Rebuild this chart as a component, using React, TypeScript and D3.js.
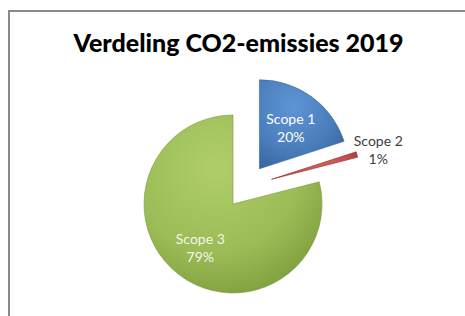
import React from "react";
import * as d3 from "d3";

const width = 465;
const height = 316;

// chart data
const categories = ["Scope 1", "Scope 2", "Scope 3"];
const values = [20, 1, 79];
const percentLabels = ["20%", "1%", "79%"];
const title = "Verdeling CO2-emissies 2019";

// per slice look
const explode = [22, 26, 22];
const labelRadius = [0.6, 1.25, 0.6];
const colors = [
  { light: "#5f94d6", mid: "#4a7ebb", dark: "#35649c" },
  { light: "#e06a66", mid: "#c0504d", dark: "#93302e" },
  { light: "#b0cf6a", mid: "#9abb55", dark: "#7a9a3a" },
];
const labelColors = ["#ffffff", "#404040", "#f4f6ea"];

const cx = 246.5;
const cy = 186.6;
const radius = 89;

const App = () => {
  const pie = d3.pie<number>().value((d) => d).sort(null);
  const arcs = pie(values);
  const arc = d3.arc<d3.PieArcDatum<number>>().innerRadius(0).outerRadius(radius);

  return (
    <svg width={width} height={height} style={{ position: "absolute", left: 0, top: 0, background: "#fff" }}>
      <defs>
        {colors.map((c, i) => (
          <radialGradient key={i} id={"g" + i} cx="40%" cy="30%" r="80%">
            <stop offset="0%" stopColor={c.light} />
            <stop offset="60%" stopColor={c.mid} />
            <stop offset="100%" stopColor={c.dark} />
          </radialGradient>
        ))}
      </defs>
      <rect x={9} y={11} width={width + 10} height={height + 10} fill="#fff" stroke="#8a8a8a" strokeWidth={2} />
      <text
        x={238.5}
        y={52}
        textAnchor="middle"
        fontFamily="Lato, sans-serif"
        fontWeight={900}
        fontSize={25}
        fill="#000"
      >
        {title}
      </text>
      <g transform={`translate(${cx},${cy})`}>
        {arcs.map((a, i) => {
          const mid = (a.startAngle + a.endAngle) / 2;
          const dx = Math.sin(mid) * explode[i];
          const dy = -Math.cos(mid) * explode[i];
          const lr = radius * labelRadius[i];
          const [lx, ly] = d3.arc<d3.PieArcDatum<number>>().innerRadius(lr).outerRadius(lr).centroid(a);
          return (
            <g key={i} transform={`translate(${dx},${dy})`}>
              <path d={arc(a) || ""} fill={`url(#g${i})`} stroke={colors[i].dark} strokeWidth={0.6} />
              <text
                x={lx}
                y={ly}
                textAnchor="middle"
                fontFamily="Lato, sans-serif"
                fontSize={14}
                fill={labelColors[i]}
              >
                <tspan x={lx} dy="-0.15em">{categories[i]}</tspan>
                <tspan x={lx} dy="1.3em">{percentLabels[i]}</tspan>
              </text>
            </g>
          );
        })}
      </g>
    </svg>
  );
};

export default App;
